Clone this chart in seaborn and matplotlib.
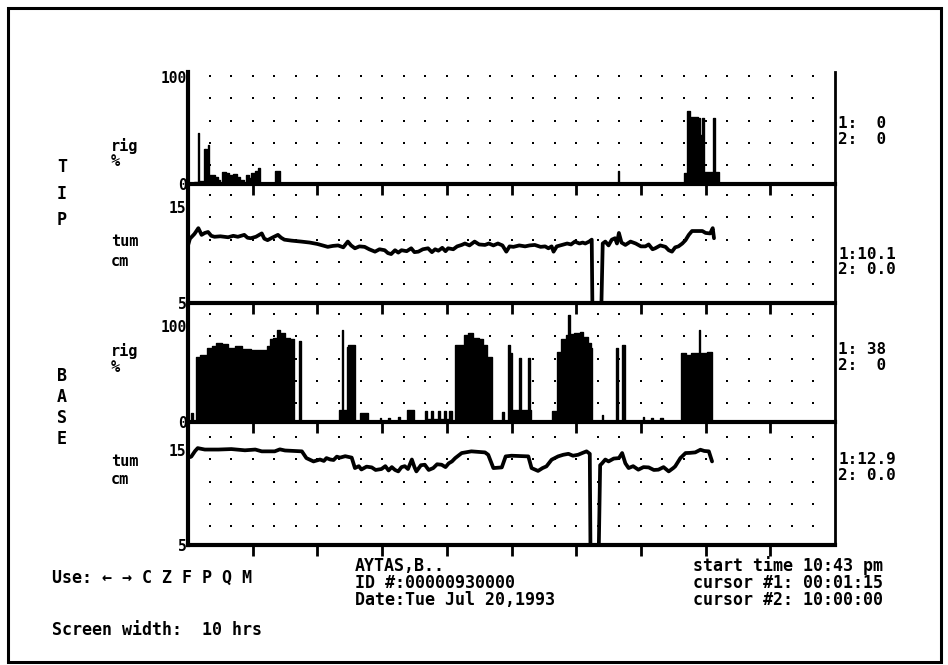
import numpy as np
import matplotlib
matplotlib.use("Agg")
import matplotlib.pyplot as plt
import matplotlib.transforms as mtransforms
from matplotlib.patches import Rectangle
import seaborn as sns

# ---- data (time in hours from start) ----
tip_rig_t = [0.00, 0.10, 0.15, 0.17, 0.24, 0.26, 0.27, 0.29, 0.31, 0.33, 0.42, 0.47,
             0.50, 0.53, 0.58, 0.64, 0.70, 0.76, 0.81, 0.86, 0.90, 0.95, 0.98, 1.03,
             1.08, 1.12, 1.34, 1.42, 6.64, 6.66, 7.66, 7.72, 7.76, 7.88, 7.92, 7.95,
             7.98, 8.11, 8.14, 8.20, 10.0]
tip_rig_v = [0, 2, 48, 3, 33, 5, 33, 5, 37, 8, 7, 4,
             0, 11, 10, 8, 9, 7, 4, 0, 8, 6, 10, 12,
             15, 0, 12, 0, 12, 0, 10, 68, 63, 62, 46, 62,
             11, 62, 11, 0, 0]

tip_tum_t = [0.00, 0.03, 0.10, 0.16, 0.21, 0.26, 0.31, 0.36, 0.41, 0.50, 0.62, 0.70,
             0.77, 0.87, 0.92, 0.97, 1.05, 1.14, 1.18, 1.23, 1.30, 1.39, 1.44, 1.49,
             1.60, 1.75, 1.88, 2.00, 2.08, 2.16, 2.24, 2.32, 2.40, 2.47, 2.52, 2.58,
             2.65, 2.73, 2.80, 2.89, 2.96, 3.04, 3.09, 3.14, 3.20, 3.25, 3.30, 3.38,
             3.45, 3.50, 3.56, 3.63, 3.71, 3.77, 3.82, 3.87, 3.93, 3.98, 4.02, 4.10,
             4.16, 4.23, 4.28, 4.35, 4.43, 4.50, 4.59, 4.65, 4.72, 4.79, 4.86, 4.92,
             4.97, 5.03, 5.12, 5.21, 5.28, 5.36, 5.45, 5.52, 5.57, 5.62, 5.65, 5.70,
             5.78, 5.86, 5.92, 5.98, 6.05, 6.10, 6.14, 6.20, 6.24, 6.25, 6.39, 6.41,
             6.45, 6.50, 6.55, 6.60, 6.63, 6.66, 6.70, 6.76, 6.84, 6.92, 7.00, 7.07,
             7.12, 7.18, 7.22, 7.30, 7.38, 7.43, 7.48, 7.53, 7.58, 7.64, 7.69, 7.74,
             7.79, 7.85, 7.95, 8.00, 8.07, 8.11, 8.13]
tip_tum_cm = [11.0, 11.7, 12.2, 12.8, 12.1, 12.3, 12.4, 12.0, 11.9, 11.95, 11.85, 12.0,
              11.9, 12.1, 11.8, 11.75, 11.9, 12.25, 11.7, 11.55, 11.8, 12.1, 11.8, 11.6,
              11.5, 11.4, 11.3, 11.15, 11.0, 10.85, 10.95, 11.0, 10.8, 11.4, 11.0, 10.7,
              10.9, 10.85, 10.6, 10.35, 10.6, 10.5, 10.2, 10.1, 10.5, 10.25, 10.5, 10.4,
              10.7, 10.3, 10.35, 10.6, 10.7, 10.3, 10.6, 10.45, 10.75, 10.4, 10.7, 10.6,
              10.9, 11.05, 11.2, 11.0, 11.4, 11.1, 11.05, 11.2, 11.0, 11.2, 11.0, 10.35,
              10.9, 10.85, 11.0, 10.9, 11.0, 11.05, 10.85, 10.9, 10.7, 10.9, 10.35, 10.9,
              11.05, 11.2, 11.1, 11.4, 11.2, 11.3, 11.2, 11.4, 11.6, 5.0, 5.0, 11.2,
              11.4, 11.0, 11.6, 11.75, 11.2, 12.3, 11.3, 11.05, 11.4, 11.2, 10.9, 10.9,
              11.1, 10.6, 10.7, 11.0, 10.85, 10.5, 10.35, 10.8, 10.9, 11.2, 11.55, 12.1,
              12.5, 12.5, 12.5, 12.3, 12.25, 12.8, 11.75]

base_rig_t = [0.00, 0.04, 0.08, 0.13, 0.19, 0.29, 0.37, 0.44, 0.52, 0.62, 0.73, 0.83,
              0.98, 1.16, 1.22, 1.27, 1.32, 1.37, 1.42, 1.50, 1.58, 1.64, 1.72, 1.74,
              2.34, 2.38, 2.40, 2.45, 2.48, 2.58, 2.66, 2.78, 2.96, 2.99, 3.09, 3.12,
              3.24, 3.27, 3.38, 3.50, 3.66, 3.69, 3.76, 3.79, 3.86, 3.89, 3.96, 3.99,
              4.04, 4.08, 4.13, 4.26, 4.33, 4.41, 4.49, 4.56, 4.62, 4.70, 4.85, 4.88,
              4.94, 4.97, 5.00, 5.12, 5.14, 5.26, 5.28, 5.30, 5.63, 5.70, 5.77, 5.85,
              5.88, 5.90, 5.96, 6.06, 6.11, 6.19, 6.23, 6.25, 6.40, 6.42, 6.62, 6.64,
              6.71, 6.75, 7.03, 7.05, 7.16, 7.19, 7.30, 7.34, 7.62, 7.70, 7.78, 7.90,
              7.92, 8.02, 8.10, 10.0]
base_rig_v = [0, 9, 0, 68, 70, 77, 79, 82, 81, 77, 79, 76,
              75, 75, 79, 86, 88, 96, 93, 88, 86, 0, 84, 0,
              13, 96, 13, 78, 80, 0, 9, 0, 4, 0, 4, 0,
              5, 0, 12, 0, 11, 3, 11, 3, 11, 3, 11, 3,
              11, 0, 80, 91, 93, 88, 86, 80, 68, 0, 10, 0,
              80, 72, 13, 67, 13, 67, 13, 0, 11, 73, 87, 91,
              112, 92, 93, 94, 89, 82, 77, 0, 7, 0, 77, 0,
              80, 0, 5, 0, 4, 0, 4, 0, 72, 70, 72, 96,
              72, 73, 0, 0]

base_tum_t = [0.00, 0.05, 0.11, 0.15, 0.26, 0.47, 0.67, 0.88, 1.04, 1.14, 1.34, 1.42,
              1.50, 1.76, 1.83, 1.94, 2.04, 2.10, 2.14, 2.20, 2.25, 2.30, 2.35, 2.43,
              2.53, 2.58, 2.64, 2.68, 2.76, 2.84, 2.90, 2.99, 3.05, 3.10, 3.15, 3.20,
              3.25, 3.30, 3.35, 3.40, 3.46, 3.50, 3.53, 3.60, 3.66, 3.72, 3.79, 3.85,
              3.92, 3.98, 4.03, 4.08, 4.13, 4.23, 4.38, 4.59, 4.64, 4.72, 4.85, 4.91,
              5.00, 5.26, 5.31, 5.41, 5.48, 5.54, 5.62, 5.72, 5.80, 5.88, 5.95, 6.03,
              6.10, 6.16, 6.21, 6.22, 6.35, 6.37, 6.40, 6.45, 6.50, 6.58, 6.66, 6.71,
              6.76, 6.81, 6.88, 6.96, 7.04, 7.12, 7.20, 7.27, 7.35, 7.43, 7.50, 7.53,
              7.61, 7.69, 7.76, 7.84, 7.92, 7.98, 8.05, 8.10]
base_tum_cm = [14.2, 14.3, 14.9, 15.2, 15.05, 15.05, 15.1, 14.97, 15.05, 14.86, 14.86, 15.07,
               14.95, 14.86, 14.15, 13.8, 14.0, 13.85, 14.15, 14.0, 13.95, 14.3, 14.2, 14.35,
               14.2, 13.1, 13.3, 12.95, 13.25, 13.17, 12.9, 13.0, 13.3, 12.85, 13.2, 12.9,
               12.75, 13.2, 13.3, 13.0, 14.0, 13.2, 12.75, 13.4, 13.45, 12.9, 13.1, 13.5,
               13.45, 13.2, 13.6, 13.8, 14.15, 14.68, 14.86, 14.75, 14.5, 13.1, 13.17, 14.33,
               14.4, 14.33, 13.1, 12.8, 13.1, 13.28, 13.98, 14.33, 14.5, 14.6, 14.4, 14.5,
               14.7, 14.86, 14.6, 5.0, 5.0, 13.4, 13.6, 14.0, 13.8, 14.1, 14.15, 14.68,
               13.6, 13.1, 13.3, 12.93, 13.2, 13.17, 12.9, 12.93, 13.2, 12.75, 13.1, 13.28,
               14.15, 14.68, 14.7, 14.75, 15.03, 14.9, 14.86, 13.8]

side_letters = [("T", 167), ("I", 194), ("P", 220), ("B", 376), ("A", 397), ("S", 418), ("E", 439)]
unit_labels = [("rig", "%"), ("tum", "cm"), ("rig", "%"), ("tum", "cm")]
cursor_values = [("1:  0", "2:  0"), ("1:10.1", "2: 0.0"), ("1: 38", "2:  0"), ("1:12.9", "2: 0.0")]
ytick_vals = [[0, 100], [5, 15], [0, 100], [5, 15]]

# ---- layout (pixel geometry of the screen) ----
W, H = 948, 665
LEFT, RIGHT = 188, 835
panels = [(72, 184), (184, 303), (303, 422), (422, 545)]
ylims = [(0, 105), (5, 17.4), (0, 124), (5, 17.95)]
unit_y = [(146, 162), (242, 262), (351, 368), (461, 480)]
cursor_y = [(124, 140), (254, 270), (349, 365), (459, 476)]
dot_rows_px = [19, 41, 63, 86, 108]

sns.set_theme(style="white")
plt.rcParams["font.family"] = ["DejaVu Sans Mono", "DejaVu Sans"]
plt.rcParams["font.weight"] = "bold"

fig = plt.figure(figsize=(W / 100, H / 100), dpi=100, facecolor="white")


def fx(px):
    return px / W


def fy(py):
    return 1 - py / H


series = [(tip_rig_t, tip_rig_v, "rig"), (tip_tum_t, tip_tum_cm, "tum"),
          (base_rig_t, base_rig_v, "rig"), (base_tum_t, base_tum_cm, "tum")]

dot_cols = np.arange(1, 30)

for i, (top, bot) in enumerate(panels):
    ax = fig.add_axes([fx(LEFT), fy(bot), fx(RIGHT) - fx(LEFT), (bot - top) / H])
    ax.set_facecolor("none")
    t, v, kind = series[i]
    if kind == "rig":
        ax.fill_between(t, v, step="post", color="black", linewidth=0.8)
        sns.lineplot(x=t, y=v, drawstyle="steps-post", color="black", lw=0.9,
                     estimator=None, sort=False, ax=ax)
    else:
        sns.lineplot(x=t, y=v, color="black", lw=2.7, estimator=None, sort=False, ax=ax)

    # dotted grid: every 20 minutes, rows fixed in screen pixels
    trans = mtransforms.blended_transform_factory(ax.transData, ax.transAxes)
    hpx = bot - top
    for j, off in enumerate(dot_rows_px):
        cols = dot_cols
        if i > 0 and j == len(dot_rows_px) - 1:
            cols = dot_cols[dot_cols % 3 != 0]
        ax.scatter(cols / 3.0, np.full(len(cols), off / hpx), transform=trans,
                   s=4.5, marker="s", color="black", linewidths=0, clip_on=False)

    ax.set_xlim(0, 10)
    ax.set_ylim(*ylims[i])
    ax.set_xticks(range(1, 10))
    ax.set_xticklabels([])
    ax.set_yticks(ytick_vals[i])
    ax.set_yticklabels([str(k) for k in ytick_vals[i]])
    ax.tick_params(axis="x", bottom=True, direction="out", length=8, width=2, color="black")
    ax.tick_params(axis="y", left=True, length=0, pad=1, labelsize=10.5, labelcolor="black")
    ax.set_xlabel("")
    ax.set_ylabel("")
    ax.spines["top"].set_visible(False)
    for side, lw in [("left", 3), ("bottom", 3), ("right", 2)]:
        ax.spines[side].set_visible(True)
        ax.spines[side].set_linewidth(lw)
        ax.spines[side].set_color("black")

    u1, u2 = unit_labels[i]
    fig.text(fx(111), fy(unit_y[i][0]), u1, fontsize=11, ha="left", va="center", color="black")
    fig.text(fx(111), fy(unit_y[i][1]), u2, fontsize=11, ha="left", va="center", color="black")
    c1, c2 = cursor_values[i]
    fig.text(fx(838), fy(cursor_y[i][0]), c1, fontsize=11.5, ha="left", va="center", color="black")
    fig.text(fx(838), fy(cursor_y[i][1]), c2, fontsize=11.5, ha="left", va="center", color="black")

for ch, y in side_letters:
    fig.text(fx(62), fy(y), ch, fontsize=12, ha="center", va="center", color="black")

txt = dict(fontsize=12, ha="left", va="center", color="black")
fig.text(fx(52), fy(578), "Use: \u2190 \u2192 C Z F P Q M", **txt)
fig.text(fx(52), fy(630), "Screen width:  10 hrs", **txt)
fig.text(fx(355), fy(566), "AYTAS,B..", **txt)
fig.text(fx(355), fy(583), "ID #:00000930000", **txt)
fig.text(fx(355), fy(600), "Date:Tue Jul 20,1993", **txt)
fig.text(fx(693), fy(566), "start time 10:43 pm", **txt)
fig.text(fx(693), fy(583), "cursor #1: 00:01:15", **txt)
fig.text(fx(693), fy(600), "cursor #2: 10:00:00", **txt)

fig.add_artist(Rectangle((fx(8), fy(662)), fx(941) - fx(8), fy(8) - fy(662),
                         transform=fig.transFigure, fill=False, lw=2.2, ec="black"))

fig.savefig("out.png", dpi=100, facecolor="white")
